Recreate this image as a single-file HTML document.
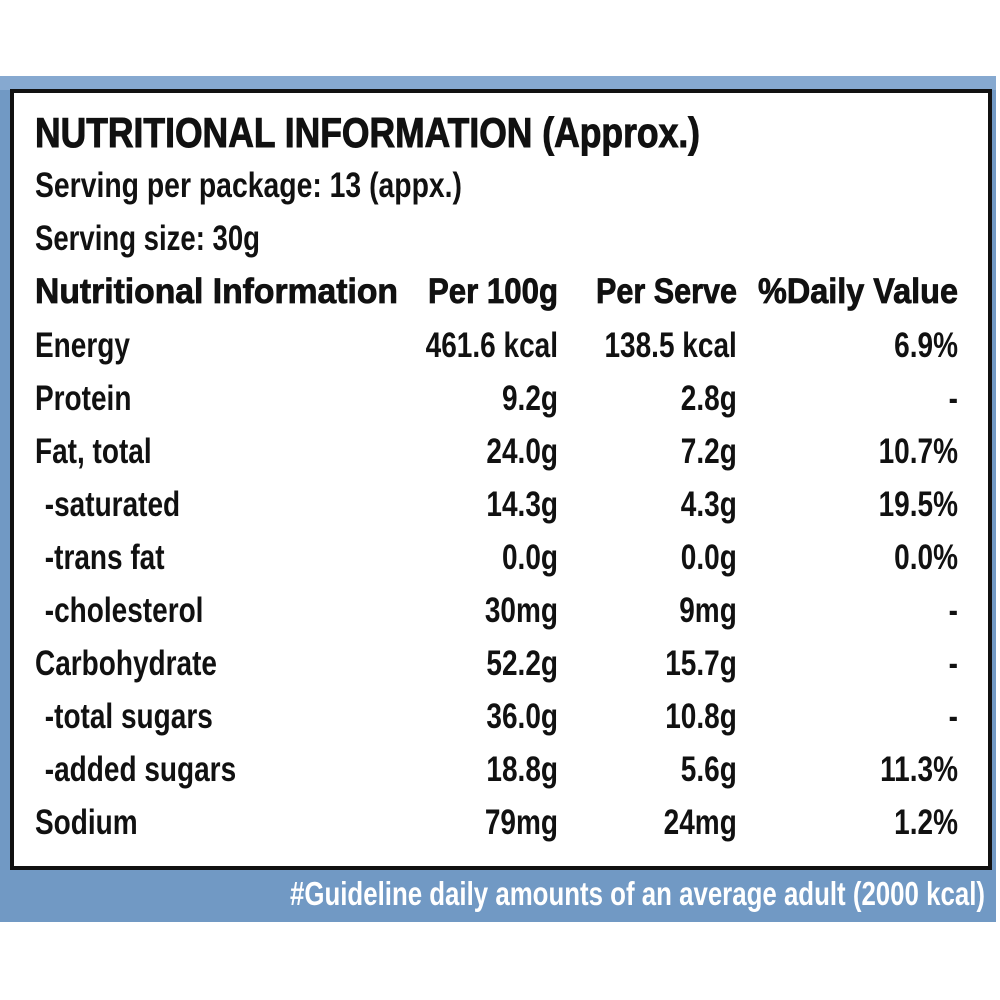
<!DOCTYPE html>
<html><head><meta charset="utf-8"><style>
html,body{margin:0;padding:0;background:#fff;}
svg{display:block}
text{font-family:"Liberation Sans",sans-serif;fill:#111;}
.r{font-size:35px;font-weight:bold;}
.b{font-size:35px;font-weight:bold;stroke:#111;stroke-width:0.8px;}
</style></head><body>
<svg width="1000" height="1000" viewBox="0 0 1000 1000" xmlns="http://www.w3.org/2000/svg">
<rect x="0" y="76" width="996" height="846" fill="#7199c4"/>
<rect x="0" y="76" width="996" height="14" fill="#86a9d0"/>
<rect x="12" y="91" width="978" height="777" fill="#fff" stroke="#111" stroke-width="4"/>
<text x="35" y="147" font-size="42" font-weight="bold" stroke="#111" stroke-width="1" textLength="665" lengthAdjust="spacingAndGlyphs">NUTRITIONAL INFORMATION (Approx.)</text>
<text class="r" x="35" y="197" textLength="427" lengthAdjust="spacingAndGlyphs">Serving per package: 13 (appx.)</text>
<text class="r" x="35" y="250" textLength="225" lengthAdjust="spacingAndGlyphs">Serving size: 30g</text>
<text class="b" x="35" y="303" textLength="363" lengthAdjust="spacingAndGlyphs">Nutritional Information</text>
<text class="b" x="428" y="303" textLength="130" lengthAdjust="spacingAndGlyphs">Per 100g</text>
<text class="b" x="596" y="303" textLength="141" lengthAdjust="spacingAndGlyphs">Per Serve</text>
<text class="b" x="758" y="303" textLength="200" lengthAdjust="spacingAndGlyphs">%Daily Value</text>
<g class="r" transform="scale(0.8,1)">
<g text-anchor="start">
<text class="r" x="43.75" y="357">Energy</text>
<text class="r" x="43.75" y="410">Protein</text>
<text class="r" x="43.75" y="463">Fat, total</text>
<text class="r" x="56" y="516">-saturated</text>
<text class="r" x="56" y="569">-trans fat</text>
<text class="r" x="56" y="622">-cholesterol</text>
<text class="r" x="43.75" y="675">Carbohydrate</text>
<text class="r" x="56" y="728">-total sugars</text>
<text class="r" x="56" y="781">-added sugars</text>
<text class="r" x="43.75" y="834">Sodium</text>
</g>
<g text-anchor="end">
<text class="r" x="697.5" y="357">461.6 kcal</text>
<text class="r" x="697.5" y="410">9.2g</text>
<text class="r" x="697.5" y="463">24.0g</text>
<text class="r" x="697.5" y="516">14.3g</text>
<text class="r" x="697.5" y="569">0.0g</text>
<text class="r" x="697.5" y="622">30mg</text>
<text class="r" x="697.5" y="675">52.2g</text>
<text class="r" x="697.5" y="728">36.0g</text>
<text class="r" x="697.5" y="781">18.8g</text>
<text class="r" x="697.5" y="834">79mg</text>
<text class="r" x="921" y="357">138.5 kcal</text>
<text class="r" x="921" y="410">2.8g</text>
<text class="r" x="921" y="463">7.2g</text>
<text class="r" x="921" y="516">4.3g</text>
<text class="r" x="921" y="569">0.0g</text>
<text class="r" x="921" y="622">9mg</text>
<text class="r" x="921" y="675">15.7g</text>
<text class="r" x="921" y="728">10.8g</text>
<text class="r" x="921" y="781">5.6g</text>
<text class="r" x="921" y="834">24mg</text>
<text class="r" x="1197.5" y="357">6.9%</text>
<text class="r" x="1197.5" y="410">-</text>
<text class="r" x="1197.5" y="463">10.7%</text>
<text class="r" x="1197.5" y="516">19.5%</text>
<text class="r" x="1197.5" y="569">0.0%</text>
<text class="r" x="1197.5" y="622">-</text>
<text class="r" x="1197.5" y="675">-</text>
<text class="r" x="1197.5" y="728">-</text>
<text class="r" x="1197.5" y="781">11.3%</text>
<text class="r" x="1197.5" y="834">1.2%</text>
</g>
</g>
<text x="290" y="905" font-size="33" font-weight="bold" style="fill:#fff" textLength="695" lengthAdjust="spacingAndGlyphs">#Guideline daily amounts of an average adult (2000 kcal)</text>
</svg>
</body></html>
